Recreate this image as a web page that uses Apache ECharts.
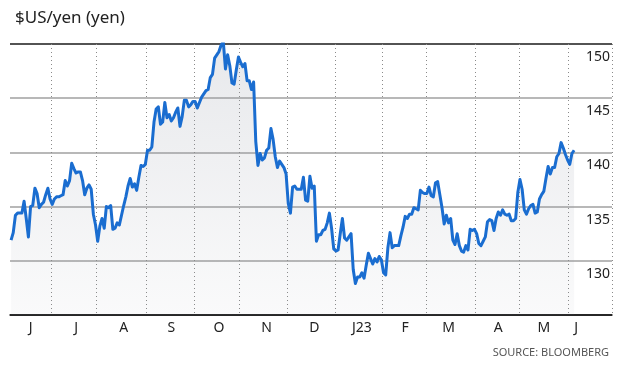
<!DOCTYPE html>
<html>
<head>
<meta charset="utf-8">
<script src="https://cdn.jsdelivr.net/npm/echarts@6/dist/echarts.min.js"></script>
<style>
html,body{margin:0;padding:0;background:#fff;}
#chart{width:620px;height:366px;}
</style>
</head>
<body>
<div id="chart"></div>
<script>
// Weekday categories start on this date; the axis runs past the data to leave room for labels
const startDate = '2022-06-06';
const categoryCount = 278;

// $US/yen closes, one per weekday, by month
const jun22 = [131.9,132.6,134.2,134.4,134.4,134.4,135.5,133.9,132.2,135.0,135.1,136.7,136.2,134.9,135.2,135.4,136.1,136.7,135.7];
const jul22 = [135.2,135.7,135.9,135.9,136.0,136.1,137.4,136.9,137.4,139.0,138.5,138.1,138.2,138.2,137.4,136.1,136.7,137.0,136.6,134.3,133.3];
const aug22 = [131.8,133.2,133.9,133.0,135.0,134.9,135.1,132.9,133.0,133.5,133.3,134.2,135.1,135.9,136.9,137.6,136.8,137.1,136.5,137.7,138.8,138.7,138.9];
const sep22 = [140.2,140.2,140.5,142.8,144.0,144.2,142.6,142.8,144.6,143.2,143.5,142.9,143.2,143.7,144.1,142.4,143.3,144.8,144.8,144.2,144.4,144.7];
const oct22 = [144.7,144.1,144.6,145.1,145.4,145.7,145.8,146.9,147.2,148.7,149.0,149.3,149.9,150.2,147.7,149.0,148.0,146.4,146.3,147.6,148.8];
const nov22 = [148.3,147.9,148.2,146.6,146.6,145.8,146.5,141.0,138.8,139.9,139.3,139.5,140.2,140.4,142.2,141.2,139.6,138.6,139.2,138.9,138.6,138.0];
const dec22 = [135.3,134.4,136.8,136.9,136.6,136.6,136.6,137.7,135.6,135.5,137.8,136.7,136.9,131.8,132.4,132.4,132.8,132.9,133.5,134.4,133.0,131.1];
const jan23 = [130.9,131.0,132.5,133.9,132.1,131.9,132.2,132.5,129.2,127.9,128.5,128.5,128.9,128.4,129.6,130.7,130.2,129.7,130.2,129.9,130.4,130.1];
const feb23 = [128.9,128.7,131.2,132.6,131.2,131.4,131.4,131.4,132.3,133.1,134.1,133.9,134.3,134.3,134.9,134.8,134.7,136.5,136.3,136.2];
const mar23 = [136.2,136.8,136.0,135.9,137.2,137.3,136.1,134.9,133.4,134.2,133.5,133.9,131.9,131.5,132.5,131.4,130.9,130.8,131.4,131.0,132.9,132.8,132.9];
const apr23 = [132.5,131.6,131.4,131.8,132.2,133.6,133.8,133.7,132.8,133.9,134.5,134.2,134.7,134.3,134.2,134.3,133.7,133.7,133.9,136.3];
const may23 = [137.5,136.6,134.7,134.3,134.8,135.1,135.2,134.4,134.5,135.7,136.1,136.4,137.6,138.7,138.0,138.6,138.6,139.6,139.9,140.9,140.4,139.8,139.3];
const jun23 = [138.9,139.9,140.2];

// Month tick labels and the weekday each is centred on
const monthLabels = ['J','J','A','S','O','N','D','J23','F','M','A','M','J'];
const labelDates = ['2022-06-17','2022-07-18','2022-08-17','2022-09-16','2022-10-18','2022-11-17','2022-12-19','2023-01-18','2023-02-15','2023-03-15','2023-04-17','2023-05-16','2023-06-06'];

// y-axis scale
const yMin = 125, yMax = 150, yStep = 5;

function fmt(d){
  const m = d.getUTCMonth()+1, day = d.getUTCDate();
  return d.getUTCFullYear()+'-'+(m<10?'0':'')+m+'-'+(day<10?'0':'')+day;
}
const categories = [];
{
  const d = new Date(startDate+'T00:00:00Z');
  while (categories.length < categoryCount) {
    const wd = d.getUTCDay();
    if (wd !== 0 && wd !== 6) categories.push(fmt(d));
    d.setUTCDate(d.getUTCDate()+1);
  }
}
const values = [].concat(jun22,jul22,aug22,sep22,oct22,nov22,dec22,jan23,feb23,mar23,apr23,may23,jun23);
const labelMap = {};
labelDates.forEach((d,i)=>{ labelMap[d] = monthLabels[i]; });
const lastDataIndex = values.length - 1;

const chart = echarts.init(document.getElementById('chart'), null, {renderer:'canvas'});
const FONT = 'Noto Sans';
chart.setOption({
  animation:false,
  backgroundColor:'#fff',
  title:[
    {text:'$US/yen (yen)', left:10, top:5, textStyle:{fontFamily:FONT, fontSize:17, fontWeight:'normal', color:'#222'}},
    {text:'SOURCE: BLOOMBERG', right:6, top:342, textStyle:{fontFamily:FONT, fontSize:11, fontWeight:'normal', color:'#555'}}
  ],
  grid:{left:10, right:8, top:44, bottom:51, containLabel:false},
  xAxis:{
    type:'category',
    data:categories,
    boundaryGap:true,
    axisLine:{show:true, lineStyle:{color:'#1a1a1a', width:1.5}},
    axisTick:{show:false},
    axisLabel:{
      interval:(i,v)=> labelMap[v]!==undefined,
      formatter:(v)=> labelMap[v]||'',
      fontFamily:FONT, fontSize:14, color:'#222', margin:6
    },
    splitLine:{
      show:true,
      interval:(i,v)=> i>0 && i<=lastDataIndex && categories[i].slice(0,7)!==categories[i-1].slice(0,7),
      lineStyle:{color:'#8a8a8a', width:1, type:[1,3]}
    }
  },
  yAxis:{
    type:'value',
    position:'right',
    min:yMin, max:yMax, interval:yStep,
    axisLine:{show:false},
    axisTick:{show:false},
    axisLabel:{
      inside:true, margin:2, showMinLabel:false,
      verticalAlign:'top', padding:[6,0,0,0],
      fontFamily:FONT, fontSize:14, color:'#222'
    },
    splitLine:{show:true, lineStyle:{color:['#1a1a1a','#a0a0a0','#a0a0a0','#a0a0a0','#a0a0a0','#1a1a1a'], width:1.5}}
  },
  series:[{
    type:'line',
    data:values,
    showSymbol:false,
    symbol:'none',
    lineStyle:{color:'#1a6dd0', width:3, join:'round'},
    areaStyle:{
      color:new echarts.graphic.LinearGradient(0,0,0,1,[
        {offset:0, color:'rgba(150,155,168,0.32)'},
        {offset:1, color:'rgba(150,155,168,0.07)'}
      ])
    },
    z:3
  }]
});
</script>
</body>
</html>
